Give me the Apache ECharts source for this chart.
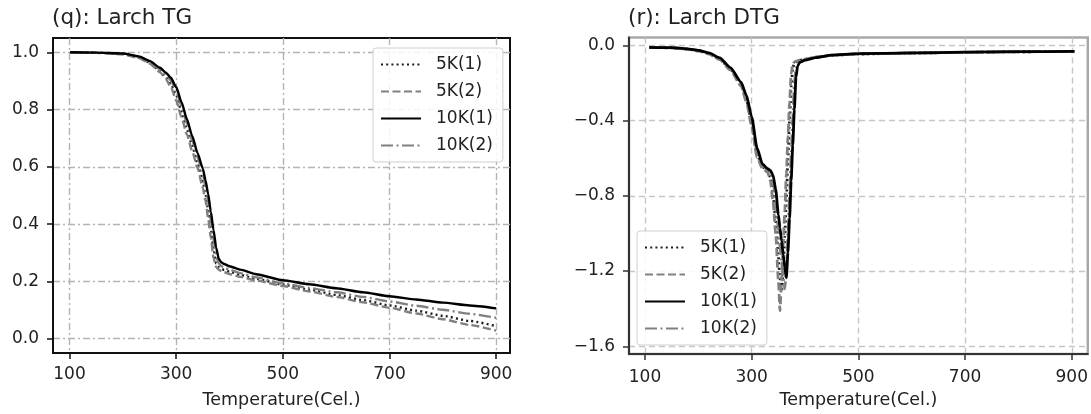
<!DOCTYPE html>
<html>
<head>
<meta charset="utf-8">
<script src="https://cdn.jsdelivr.net/npm/echarts@6/dist/echarts.min.js"></script>
<style>
  html, body { margin: 0; padding: 0; background: #fff; }
  #wrap { position: relative; width: 1091px; height: 414px; overflow: hidden; }
  #tg { position: absolute; left: 0; top: 0; width: 545px; height: 414px; }
  #dtg { position: absolute; left: 545px; top: 0; width: 546px; height: 414px; filter: blur(0.6px); }
</style>
</head>
<body>
<div id="wrap">
  <div id="tg"></div>
  <div id="dtg"></div>
</div>
<script>
// ---- TG (mass fraction) curves ----
const tgTemp = [101, 150, 200, 230, 250, 270, 280, 290, 300, 310, 320, 330, 340, 350, 355, 360, 365, 370, 375, 380, 385, 390, 400, 420, 450, 500, 550, 600, 650, 700, 750, 800, 850, 900];
const tg5K1 = [1.000, 0.999, 0.994, 0.982, 0.964, 0.935, 0.915, 0.890, 0.850, 0.793, 0.733, 0.674, 0.613, 0.548, 0.505, 0.450, 0.383, 0.315, 0.262, 0.250, 0.244, 0.240, 0.234, 0.223, 0.209, 0.189, 0.171, 0.153, 0.135, 0.116, 0.098, 0.080, 0.062, 0.044];
const tg5K2 = [1.000, 0.998, 0.993, 0.980, 0.961, 0.930, 0.908, 0.879, 0.832, 0.773, 0.714, 0.655, 0.596, 0.527, 0.481, 0.420, 0.352, 0.282, 0.250, 0.241, 0.236, 0.232, 0.226, 0.216, 0.203, 0.184, 0.165, 0.146, 0.127, 0.108, 0.088, 0.068, 0.048, 0.028];
const tg10K1 = [1.000, 0.999, 0.996, 0.986, 0.970, 0.946, 0.930, 0.911, 0.879, 0.826, 0.767, 0.708, 0.649, 0.594, 0.553, 0.505, 0.443, 0.380, 0.318, 0.278, 0.266, 0.261, 0.253, 0.241, 0.225, 0.204, 0.190, 0.176, 0.162, 0.148, 0.137, 0.126, 0.116, 0.106];
const tg10K2 = [1.000, 0.999, 0.995, 0.984, 0.967, 0.941, 0.924, 0.902, 0.866, 0.812, 0.752, 0.693, 0.634, 0.574, 0.530, 0.478, 0.414, 0.348, 0.288, 0.262, 0.253, 0.248, 0.241, 0.229, 0.214, 0.193, 0.177, 0.162, 0.146, 0.130, 0.115, 0.101, 0.087, 0.073];

// ---- DTG (mass-loss rate) curves ----
const dtgTemp = [108, 150, 180, 200, 220, 240, 260, 280, 290, 300, 310, 320, 330, 335, 340, 345, 350, 353, 356, 359, 362, 365, 368, 371, 374, 377, 380, 383, 386, 390, 400, 420, 450, 500, 600, 700, 800, 905];
const dtg5K1 = [-0.010, -0.013, -0.020, -0.029, -0.044, -0.072, -0.127, -0.208, -0.290, -0.415, -0.580, -0.645, -0.668, -0.700, -0.790, -0.930, -1.120, -1.240, -1.310, -1.200, -1.020, -0.820, -0.600, -0.400, -0.220, -0.120, -0.095, -0.088, -0.084, -0.080, -0.074, -0.063, -0.053, -0.046, -0.041, -0.037, -0.034, -0.032];
const dtg5K2 = [-0.010, -0.013, -0.021, -0.030, -0.046, -0.075, -0.132, -0.215, -0.300, -0.430, -0.595, -0.652, -0.675, -0.720, -0.830, -1.000, -1.250, -1.410, -1.250, -1.070, -0.880, -0.680, -0.480, -0.300, -0.150, -0.100, -0.088, -0.084, -0.081, -0.078, -0.073, -0.062, -0.052, -0.045, -0.041, -0.037, -0.034, -0.032];
const dtg10K1 = [-0.010, -0.012, -0.018, -0.026, -0.040, -0.066, -0.118, -0.195, -0.265, -0.380, -0.545, -0.630, -0.656, -0.665, -0.690, -0.765, -0.900, -0.970, -1.040, -1.110, -1.180, -1.235, -1.100, -0.920, -0.720, -0.530, -0.340, -0.170, -0.110, -0.090, -0.078, -0.065, -0.052, -0.044, -0.040, -0.036, -0.033, -0.032];
const dtg10K2 = [-0.010, -0.012, -0.019, -0.027, -0.042, -0.069, -0.122, -0.200, -0.275, -0.395, -0.560, -0.638, -0.662, -0.675, -0.720, -0.830, -0.980, -1.070, -1.150, -1.230, -1.295, -1.200, -1.000, -0.800, -0.580, -0.380, -0.200, -0.125, -0.100, -0.088, -0.076, -0.064, -0.052, -0.045, -0.041, -0.037, -0.034, -0.032];

// ---- axis ticks ----
const tempTicks = [100, 300, 500, 700, 900];
const tgTicks = [0, 0.2, 0.4, 0.6, 0.8, 1.0];
const dtgTicks = [-1.6, -1.2, -0.8, -0.4, 0.0];

const seriesNames = ['5K(1)', '5K(2)', '10K(1)', '10K(2)'];

const FONT = 'DejaVu Sans';
const zip = (xs, ys) => xs.map((x, i) => [x, ys[i]]);
const fmt1 = v => (v < -1e-9 ? '\u2212' : '') + Math.abs(v).toFixed(1);

// line looks for the four runs: dotted, dashed, solid, dash-dot
function lineLooks(w) {
  return [
    { color: '#1e1e1e', width: w, type: [2, 3.2] },
    { color: '#808080', width: w, type: [8, 3.5] },
    { color: '#000000', width: w, type: 'solid' },
    { color: '#808080', width: w, type: [12, 3.5, 2, 3.5] }
  ];
}

function makeSeries(temp, lists, w) {
  const looks = lineLooks(w);
  return lists.map((vals, i) => ({
    name: seriesNames[i],
    type: 'line',
    data: zip(temp, vals),
    symbol: 'none',
    smooth: 0.2,
    smoothMonotone: 'x',
    lineStyle: looks[i],
    itemStyle: { color: looks[i].color },
    z: i === 2 ? 4 : 3
  }));
}

function legendCfg(left, top) {
  return {
    orient: 'vertical',
    left: left, top: top,
    itemWidth: 40, itemHeight: 14,
    itemGap: 10,
    padding: [8, 10, 8, 7],
    backgroundColor: 'rgba(255,255,255,0.85)',
    borderColor: '#cfcfcf', borderWidth: 1, borderRadius: 3,
    itemStyle: { opacity: 0 },
    textStyle: { fontFamily: FONT, fontSize: 17, color: '#222', lineHeight: 17, padding: [0, 0, 0, 10] },
    data: seriesNames
  };
}

function valueAxisStyle(lineColor, gridColor, gridType) {
  return {
    axisLine: { show: true, onZero: false, lineStyle: { color: lineColor, width: 2 } },
    splitLine: { show: true, lineStyle: { color: gridColor, width: 1.4, type: gridType } }
  };
}

// ---- left panel: TG ----
const tgChart = echarts.init(document.getElementById('tg'), null, { renderer: 'canvas' });
const tgX = valueAxisStyle('#111', '#b4b4b4', [7, 3, 2, 3]);
const tgY = valueAxisStyle('#111', '#b4b4b4', [7, 3, 2, 3]);
tgChart.setOption({
  animation: false,
  textStyle: { fontFamily: FONT },
  title: {
    text: '(q): Larch TG', left: 52, top: 7, padding: 0,
    textStyle: { fontFamily: FONT, fontSize: 21.5, fontWeight: 'normal', color: '#222' }
  },
  legend: legendCfg(373, 48),
  grid: {
    left: 53, top: 38, width: 457, height: 315,
    show: true, borderColor: '#111', borderWidth: 2
  },
  xAxis: Object.assign({
    type: 'value', min: 69, max: 926,
    name: 'Temperature(Cel.)', nameLocation: 'middle', nameGap: 38,
    nameTextStyle: { fontFamily: FONT, fontSize: 17.5, color: '#222' },
    axisTick: { show: true, length: 6, customValues: tempTicks, lineStyle: { color: '#111', width: 1.5 } },
    axisLabel: { customValues: tempTicks, margin: 13, fontFamily: FONT, fontSize: 17, color: '#222' }
  }, tgX),
  yAxis: Object.assign({
    type: 'value', min: -0.05, max: 1.05,
    axisTick: { show: true, length: 6, customValues: tgTicks, lineStyle: { color: '#111', width: 1.5 } },
    axisLabel: { customValues: tgTicks, margin: 14, fontFamily: FONT, fontSize: 17, color: '#222', formatter: fmt1 }
  }, tgY),
  series: makeSeries(tgTemp, [tg5K1, tg5K2, tg10K1, tg10K2], 2.4)
});

// ---- right panel: DTG ----
const dtgChart = echarts.init(document.getElementById('dtg'), null, { renderer: 'canvas' });
const dtgX = valueAxisStyle('#333', '#c6c6c6', [6, 4]);
const dtgY = valueAxisStyle('#333', '#c6c6c6', [6, 4]);
dtgChart.setOption({
  animation: false,
  textStyle: { fontFamily: FONT },
  title: {
    text: '(r): Larch DTG', left: 83, top: 7, padding: 0,
    textStyle: { fontFamily: FONT, fontSize: 21.5, fontWeight: 'normal', color: '#222' }
  },
  legend: legendCfg(92, 231),
  grid: {
    left: 84, top: 37.5, width: 459, height: 318.5,
    show: true, borderColor: '#a8a8a8', borderWidth: 2.5
  },
  xAxis: Object.assign({
    type: 'value', min: 70, max: 930,
    name: 'Temperature(Cel.)', nameLocation: 'middle', nameGap: 37,
    nameTextStyle: { fontFamily: FONT, fontSize: 17.5, color: '#222' },
    axisTick: { show: true, length: 6, customValues: tempTicks, lineStyle: { color: '#333', width: 1.5 } },
    axisLabel: { customValues: tempTicks, margin: 15, fontFamily: FONT, fontSize: 17, color: '#222' }
  }, dtgX),
  yAxis: Object.assign({
    type: 'value', min: -1.641, max: 0.042,
    axisTick: { show: true, length: 6, customValues: dtgTicks, lineStyle: { color: '#333', width: 1.5 } },
    axisLabel: { customValues: dtgTicks, margin: 14, fontFamily: FONT, fontSize: 17, color: '#222', formatter: fmt1 }
  }, dtgY),
  series: makeSeries(dtgTemp, [dtg5K1, dtg5K2, dtg10K1, dtg10K2], 2.8)
});
</script>
</body>
</html>
